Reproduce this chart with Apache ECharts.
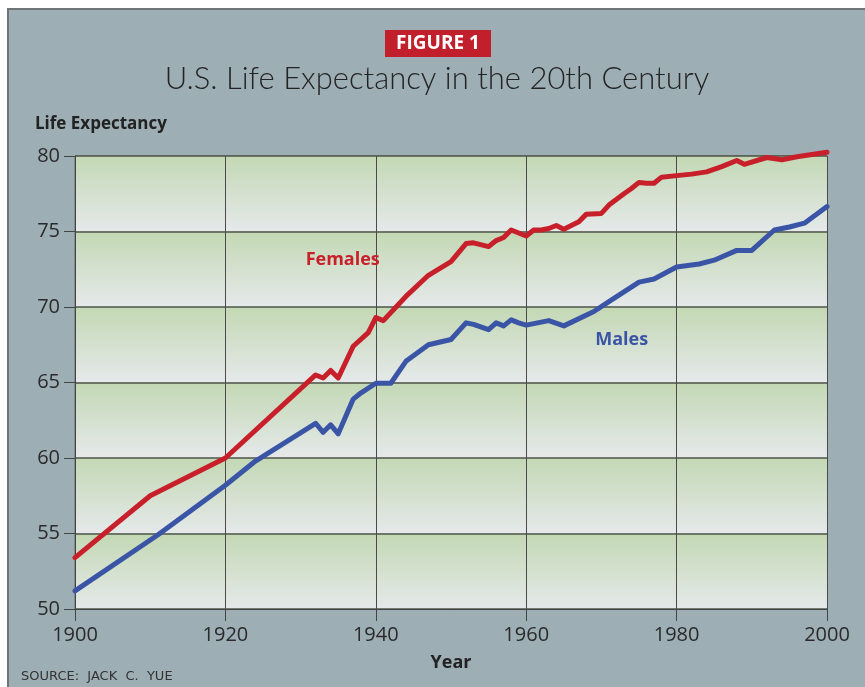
<!DOCTYPE html>
<html>
<head>
<meta charset="utf-8">
<script src="https://cdn.jsdelivr.net/npm/echarts@6/dist/echarts.min.js"></script>
<style>
  html, body { margin: 0; padding: 0; background: #fff; }
  #chart { width: 865px; height: 687px; }
</style>
</head>
<body>
<div id="chart"></div>
<script>
  // values: [year, life expectancy]
  const femaleData = [
    [1900, 53.4], [1910, 57.5], [1920, 60.0], [1932, 65.5], [1933, 65.3],
    [1934, 65.8], [1935, 65.3], [1937, 67.4], [1939, 68.3], [1940, 69.3],
    [1941, 69.1], [1944, 70.7], [1947, 72.1], [1950, 73.0], [1952, 74.2],
    [1953, 74.25], [1955, 74.0], [1956, 74.4], [1957, 74.6], [1958, 75.1],
    [1959, 74.9], [1960, 74.7], [1961, 75.1], [1962, 75.1], [1963, 75.2],
    [1964, 75.4], [1965, 75.15], [1966, 75.4], [1967, 75.65], [1968, 76.15],
    [1970, 76.2], [1971, 76.75], [1973, 77.5], [1974, 77.85], [1975, 78.25],
    [1976, 78.2], [1977, 78.2], [1978, 78.6], [1980, 78.7], [1982, 78.8],
    [1984, 78.95], [1986, 79.3], [1988, 79.7], [1989, 79.45], [1992, 79.9],
    [1994, 79.75], [1996, 79.95], [2000, 80.25]
  ]
  const maleData = [
    [1900, 51.2], [1911, 54.9], [1920, 58.2], [1924, 59.8], [1932, 62.3],
    [1933, 61.7], [1934, 62.2], [1935, 61.6], [1937, 63.9], [1938, 64.3],
    [1940, 64.95], [1942, 64.95], [1944, 66.4], [1947, 67.5], [1950, 67.85],
    [1952, 68.95], [1953, 68.85], [1955, 68.5], [1956, 68.95], [1957, 68.75],
    [1958, 69.15], [1959, 68.95], [1960, 68.8], [1963, 69.1], [1965, 68.75],
    [1969, 69.7], [1971, 70.35], [1975, 71.65], [1977, 71.85], [1980, 72.65],
    [1983, 72.85], [1985, 73.1], [1988, 73.75], [1990, 73.75], [1993, 75.1],
    [1995, 75.3], [1997, 75.55], [2000, 76.65]
  ]
  const seriesNames = ['Females', 'Males']
  const labelPos = [[1935.6, 73.1], [1972.7, 67.8]]

  const font = '"Open Sans", "Noto Sans", sans-serif'
  const red = '#c8202b'
  const blue = '#3a55a5'

  const band = new echarts.graphic.LinearGradient(0, 0, 0, 1, [
    { offset: 0, color: '#c3d8b4' },
    { offset: 1, color: '#e5e9ea' }
  ])

  const chart = echarts.init(document.getElementById('chart'))
  chart.setOption({
    backgroundColor: '#ffffff',
    animation: false,
    graphic: [
      {
        type: 'rect',
        z: -10,
        shape: { x: 8, y: 9, width: 870, height: 690 },
        style: { fill: '#9eaeb5', stroke: '#6f7476', lineWidth: 2 }
      },
      {
        type: 'rect',
        z: 10,
        shape: { x: 385, y: 30, width: 106, height: 27 },
        style: { fill: '#c21f2c' }
      },
      {
        type: 'text',
        z: 11,
        x: 438, y: 44,
        style: {
          text: 'FIGURE 1', fill: '#fff', align: 'center', verticalAlign: 'middle',
          font: 'bold 19px "Liberation Sans Narrow", "Open Sans", sans-serif'
        }
      },
      {
        type: 'text',
        z: 11,
        x: 437, y: 79,
        style: {
          text: 'U.S. Life Expectancy in the 20th Century', fill: '#232323',
          align: 'center', verticalAlign: 'middle',
          font: '300 31px "Lato", "Open Sans", sans-serif'
        }
      },
      {
        type: 'text',
        z: 11,
        x: 35, y: 124,
        style: {
          text: 'Life Expectancy', fill: '#222', verticalAlign: 'middle',
          font: 'bold 17px ' + font
        }
      },
      {
        type: 'text',
        z: 11,
        x: 21, y: 677,
        style: {
          text: 'SOURCE:  JACK  C.  YUE', fill: '#333', verticalAlign: 'middle',
          font: '13px "DejaVu Sans", sans-serif'
        }
      }
    ],
    grid: {
      left: 75,
      right: 38,
      top: 156,
      bottom: 78,
      show: true,
      borderColor: '#6a6e6c',
      borderWidth: 1
    },
    xAxis: {
      type: 'value',
      min: 1900,
      max: 2000,
      interval: 20,
      name: 'Year',
      nameLocation: 'middle',
      nameGap: 45,
      nameTextStyle: { color: '#222', fontSize: 18, fontWeight: 'bold', fontFamily: font },
      axisLine: { lineStyle: { color: '#444', width: 1 } },
      axisTick: { show: true, length: 12, lineStyle: { color: '#444' } },
      axisLabel: { color: '#2a2a2a', fontSize: 20, margin: 16, fontFamily: font, formatter: (v) => String(v) },
      splitLine: { show: true, lineStyle: { color: '#4a4a4a', width: 1 } }
    },
    yAxis: {
      type: 'value',
      min: 50,
      max: 80,
      interval: 5,
      axisLine: { show: true, lineStyle: { color: '#444', width: 1 } },
      axisTick: { show: true, length: 11, lineStyle: { color: '#444' } },
      axisLabel: { color: '#2a2a2a', fontSize: 20, margin: 15, fontFamily: font },
      splitLine: { show: true, lineStyle: { color: '#4f5549', width: 1.5 } },
      splitArea: { show: true, areaStyle: { color: [band] } }
    },
    series: [
      {
        name: seriesNames[0],
        type: 'line',
        data: femaleData,
        showSymbol: false,
        clip: false,
        lineStyle: { color: red, width: 5, join: 'round', cap: 'round' },
        markPoint: {
          symbol: 'circle',
          symbolSize: 0,
          label: {
            show: true, position: 'inside', formatter: seriesNames[0],
            color: red, fontSize: 18, fontWeight: 'bold', fontFamily: font
          },
          data: [{ coord: labelPos[0] }]
        }
      },
      {
        name: seriesNames[1],
        type: 'line',
        data: maleData,
        showSymbol: false,
        clip: false,
        lineStyle: { color: blue, width: 5, join: 'round', cap: 'round' },
        markPoint: {
          symbol: 'circle',
          symbolSize: 0,
          label: {
            show: true, position: 'inside', formatter: seriesNames[1],
            color: blue, fontSize: 18, fontWeight: 'bold', fontFamily: font
          },
          data: [{ coord: labelPos[1] }]
        }
      }
    ]
  })
</script>
</body>
</html>
